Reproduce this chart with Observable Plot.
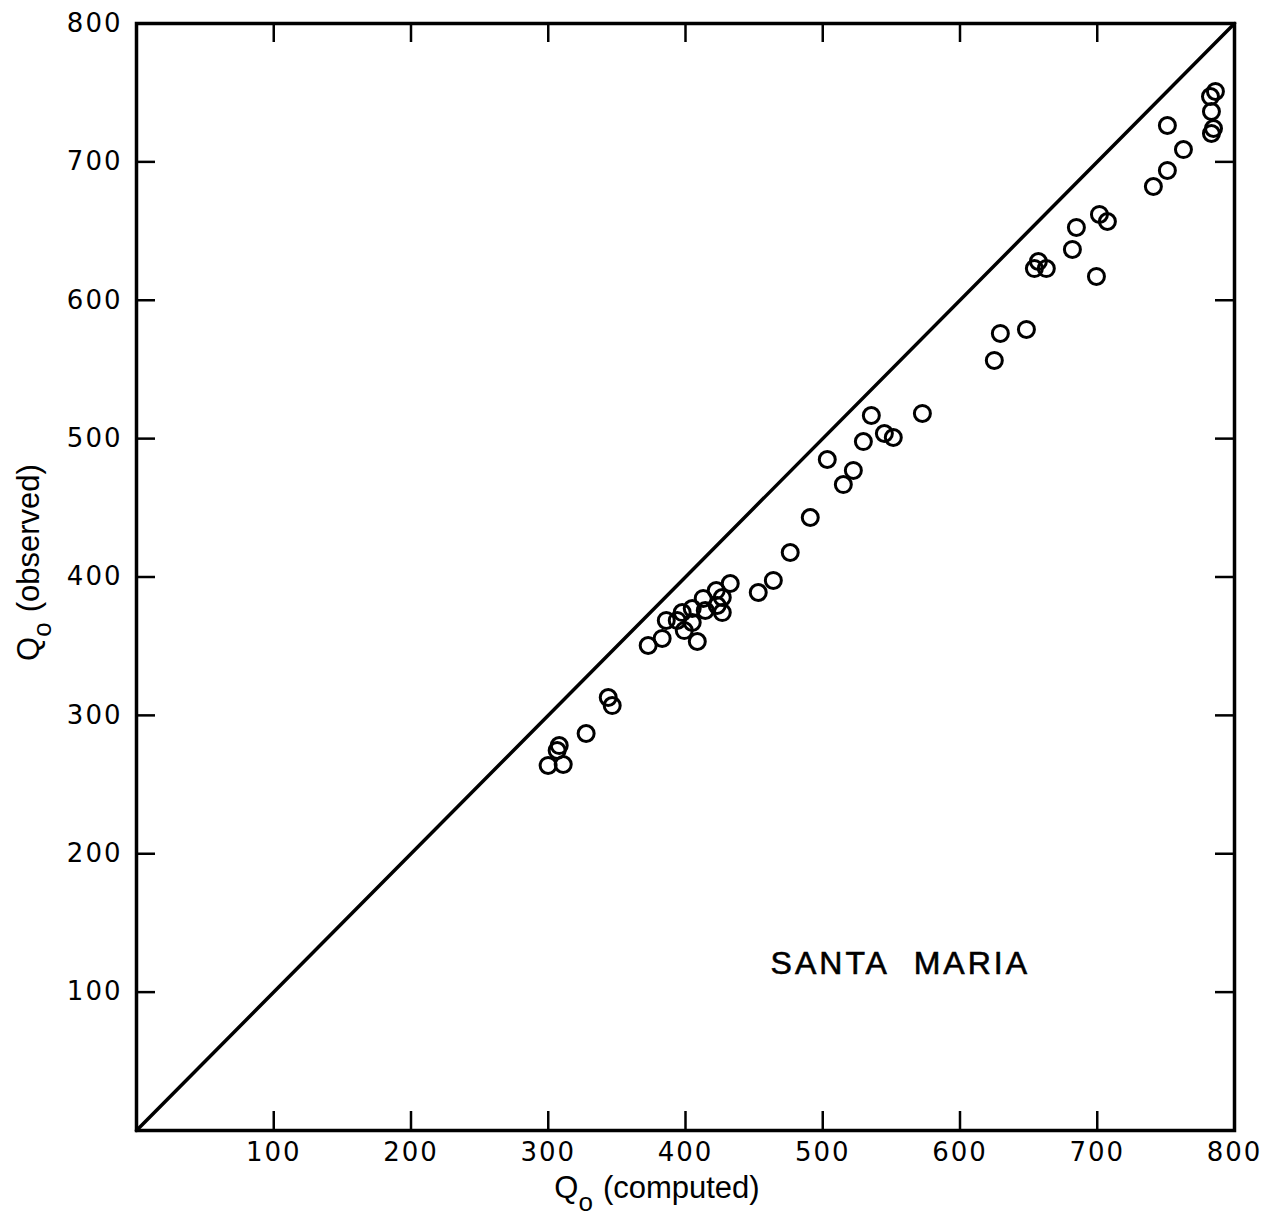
<!DOCTYPE html>
<html>
<head>
<meta charset="utf-8">
<script src="https://cdn.jsdelivr.net/npm/d3@7"></script>
<script src="https://cdn.jsdelivr.net/npm/@observablehq/plot@0.6"></script>
<style>
  html, body { margin: 0; padding: 0; background: #fff; }
  #chart svg { display: block; }
</style>
</head>
<body>
<div id="chart"></div>
<script>
// Santa Maria: observed vs computed Q0
const computed = [
  299.9, 310.9, 306.5, 308.0, 327.6, 343.7, 346.6,
  372.8, 383.0, 386.0, 394.0, 397.6, 399.1, 404.9, 404.9, 408.6,
  412.9, 414.4, 422.4, 426.8, 423.1, 426.8, 432.6,
  453.0, 464.0, 476.3, 490.9, 503.3, 515.0, 522.3, 529.6, 535.4,
  544.9, 551.4, 572.6,
  625.0, 629.4, 648.4, 654.2, 657.1, 662.9, 681.9, 684.8, 699.4,
  701.6, 707.4,
  740.9, 751.1, 762.8, 751.1, 786.1, 782.5, 783.2, 784.7, 783.2
];
const observed = [
  263.8, 264.5, 274.6, 278.2, 286.9, 312.9, 307.1,
  350.5, 355.6, 368.6, 368.6, 374.3, 361.3, 377.2, 367.1, 353.4,
  384.5, 375.8, 390.2, 385.2, 379.4, 374.3, 395.3,
  388.8, 397.5, 417.7, 443.0, 484.9, 466.8, 477.0, 497.9, 516.7,
  503.7, 500.8, 518.2,
  556.5, 576.0, 578.9, 622.9, 628.0, 622.9, 636.7, 652.6, 617.2,
  662.0, 656.9,
  682.2, 693.8, 708.9, 726.3, 750.9, 747.2, 736.4, 724.1, 720.5
];
const tickValues = [100, 200, 300, 400, 500, 600, 700, 800];
const innerTicks = [100, 200, 300, 400, 500, 600, 700];
const equalityLine = [0, 800];
const stationName = "SANTA\u00a0\u00a0MARIA";

const points = computed.map((c, i) => ({computed: c, observed: observed[i]}));

const W = 1273, H = 1218;
const mL = 136, mR = 39, mT = 23, mB = 88;
const frameW = W - mL - mR, frameH = H - mT - mB;
const tickLen = 19;

const plot = Plot.plot({
  width: W,
  height: H,
  marginLeft: mL,
  marginRight: mR,
  marginTop: mT,
  marginBottom: mB,
  style: {fontFamily: "'DejaVu Sans', sans-serif", color: "#000", background: "#fff"},
  x: {domain: [0, 800]},
  y: {domain: [0, 800]},
  marks: [
    // inward tick marks on all four sides
    Plot.tickX(innerTicks, {x: d => d, insetTop: frameH - tickLen, stroke: "#000", strokeWidth: 2.5}),
    Plot.tickX(innerTicks, {x: d => d, insetBottom: frameH - tickLen, stroke: "#000", strokeWidth: 2.5}),
    Plot.tickY(innerTicks, {y: d => d, insetRight: frameW - tickLen, stroke: "#000", strokeWidth: 2.5}),
    Plot.tickY(innerTicks, {y: d => d, insetLeft: frameW - tickLen, stroke: "#000", strokeWidth: 2.5}),
    Plot.axisX({ticks: tickValues, tickSize: 0, tickPadding: 12, label: null, fontSize: 26, tickFormat: d => d}),
    Plot.axisY({ticks: tickValues, tickSize: 0, tickPadding: 14, label: null, fontSize: 26, tickFormat: d => d}),
    Plot.frame({stroke: "#000", strokeWidth: 3.5}),
    // 1:1 line
    Plot.line(equalityLine, {x: d => d, y: d => d, stroke: "#000", strokeWidth: 3.5}),
    Plot.dot(points, {x: "computed", y: "observed", r: 8, stroke: "#000", strokeWidth: 3, fill: "none"}),
    Plot.text([stationName], {
      x: () => 462, y: () => 113, text: d => d,
      textAnchor: "start", lineAnchor: "bottom",
      fontSize: 32, fill: "#000",
      fontFamily: "'Liberation Sans', sans-serif"
    })
  ]
});

const svg = d3.select(plot);
svg.selectAll("[aria-label='x-axis tick label'] text, [aria-label='y-axis tick label'] text")
  .style("letter-spacing", "2px");
svg.selectAll("[aria-label='text'] text")
  .style("letter-spacing", "3px")
  .attr("stroke", "#000").attr("stroke-width", 0.6);

const xs = plot.scale("x"), ys = plot.scale("y");
const labelFont = "'Liberation Sans', sans-serif";

// x-axis title: Q with subscript o
const xt = svg.append("text")
  .attr("x", xs.apply(400) - 28)
  .attr("y", H - 20)
  .attr("text-anchor", "middle")
  .attr("font-family", labelFont)
  .attr("font-size", 31)
  .attr("fill", "#000");
xt.append("tspan").text("Q");
xt.append("tspan").attr("dy", 13).attr("font-size", 26).text("o");
xt.append("tspan").attr("dy", -13).attr("dx", 10).text("(computed)");

// y-axis title, rotated
const yt = svg.append("text")
  .attr("transform", `translate(39,${ys.apply(400) - 14}) rotate(-90)`)
  .attr("text-anchor", "middle")
  .attr("font-family", labelFont)
  .attr("font-size", 31)
  .attr("fill", "#000");
yt.append("tspan").text("Q");
yt.append("tspan").attr("dy", 12).attr("font-size", 26).text("o");
yt.append("tspan").attr("dy", -12).attr("dx", 10).text("(observed)");

document.getElementById("chart").appendChild(plot);
</script>
</body>
</html>
